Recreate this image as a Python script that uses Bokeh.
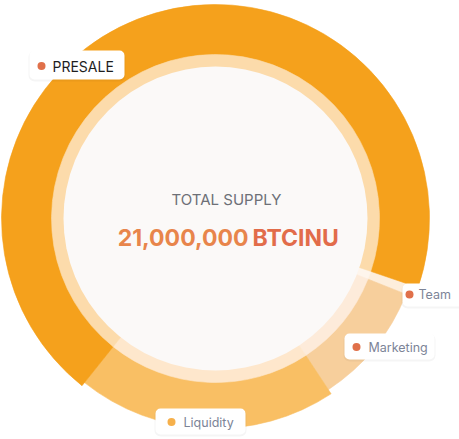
import math
from bokeh.plotting import figure
from bokeh.models import Range1d, ColumnDataSource
from bokeh.embed import file_html
from bokeh.resources import INLINE
from bokeh.core.properties import value

# ---------------- data ----------------
categories = ["Team", "Marketing", "Liquidity", "PRESALE"]
shares = [0.8, 9.7, 20.0, 69.5]
center_title = "TOTAL SUPPLY"
supply_number = "21,000,000"
token_symbol = "BTCINU"

# ---------------- layout / style ----------------
W, H = 459, 439
CX, CY = 215, 218          # centre in pixel coords (y down)
START_DEG = 108.8          # clockwise from 12 o'clock


def Y(y):
    return H - y


slice_color = {"Team": "#FDEEDC", "Marketing": "#F7CF9C",
               "Liquidity": "#F9BF64", "PRESALE": "#F5A11C"}
ring_color = {"Team": "#FEF5EC", "Marketing": "#FDEBDA",
              "Liquidity": "#FEE7CC", "PRESALE": "#FCDBAB"}
outer_r = {"Team": 204, "Marketing": 205, "Liquidity": 210, "PRESALE": 214}
dot_color = {"Team": "#E0704A", "Marketing": "#E0704A",
             "Liquidity": "#F6B04B", "PRESALE": "#E0704A"}
# pill: left, right, top, bottom ; dot x,y ; text x
pill = {
    "PRESALE":   dict(l=29, r=124, t=50, b=79, dx=41, dy=65.5, tx=52, size="14px", col="#1E1E1E"),
    "Team":      dict(l=402, r=466, t=283, b=306, dx=409, dy=294, tx=418, size="12.5px", col="#7C8497"),
    "Marketing": dict(l=344, r=434, t=333, b=359, dx=356, dy=346.5, tx=368, size="12.5px", col="#7C8497"),
    "Liquidity": dict(l=155, r=245, t=408, b=434, dx=171, dy=421.5, tx=183, size="12.5px", col="#7C8497"),
}

tot = float(sum(shares))
starts, ends = [], []
acc = START_DEG
for s in shares:
    t0, t1 = acc, acc + s / tot * 360.0
    starts.append(math.radians(90 - t0))
    ends.append(math.radians(90 - t1))
    acc = t1

src = ColumnDataSource(dict(
    cat=categories, start=starts, end=ends,
    color=[slice_color[c] for c in categories],
    ring=[ring_color[c] for c in categories],
    outer=[outer_r[c] for c in categories],
))

p = figure(width=W, height=H, x_range=Range1d(0, W), y_range=Range1d(0, H),
           output_backend="svg", toolbar_location=None,
           x_axis_location=None, y_axis_location=None, min_border=0)
p.grid.visible = False
p.outline_line_color = None
p.background_fill_color = "white"
p.border_fill_color = "white"

# outer donut
p.annular_wedge(x=CX, y=Y(CY), inner_radius=163, outer_radius="outer",
                start_angle="start", end_angle="end", direction="clock",
                fill_color="color", line_color="color", line_width=0.6, source=src)
# pale inner ring
p.annular_wedge(x=CX, y=Y(CY), inner_radius=151, outer_radius=164,
                start_angle="start", end_angle="end", direction="clock",
                fill_color="ring", line_color="ring", line_width=0.6, source=src)
# centre disc
p.circle(x=[CX], y=[Y(CY)], radius=152, fill_color="#FBF9F8", line_color=None)

# centre texts
p.text(x=[226], y=[Y(199)], text=[center_title], text_font=value("Inter"),
       text_font_size="15px", text_color="#6D7077", text_align="center",
       text_baseline="middle")
p.text(x=[248], y=[Y(237)], text=[supply_number], text_font=value("Inter"),
       text_font_size="23px", text_font_style="bold", text_color="#E8854B",
       text_align="right", text_baseline="middle")
p.text(x=[252], y=[Y(237)], text=[token_symbol], text_font=value("Inter"),
       text_font_size="23px", text_font_style="bold", text_color="#E26C4A",
       text_align="left", text_baseline="middle")

# label pills
for c in categories:
    d = pill[c]
    p.quad(left=[d["l"] - 1], right=[d["r"] + 1], top=[Y(d["t"]) - 0.5],
           bottom=[Y(d["b"]) - 2], fill_color="#000000", fill_alpha=0.04,
           line_color=None, border_radius=6)
    p.quad(left=[d["l"]], right=[d["r"]], top=[Y(d["t"])], bottom=[Y(d["b"])],
           fill_color="white", line_color=None, border_radius=5)
    p.scatter(x=[d["dx"]], y=[Y(d["dy"])], size=8, fill_color=dot_color[c],
              line_color=None)
    p.text(x=[d["tx"]], y=[Y(d["dy"])], text=[c], text_font=value("Inter"),
           text_font_size=d["size"], text_color=d["col"], text_align="left",
           text_baseline="middle")

open("out.html", "w").write(file_html(p, INLINE))
